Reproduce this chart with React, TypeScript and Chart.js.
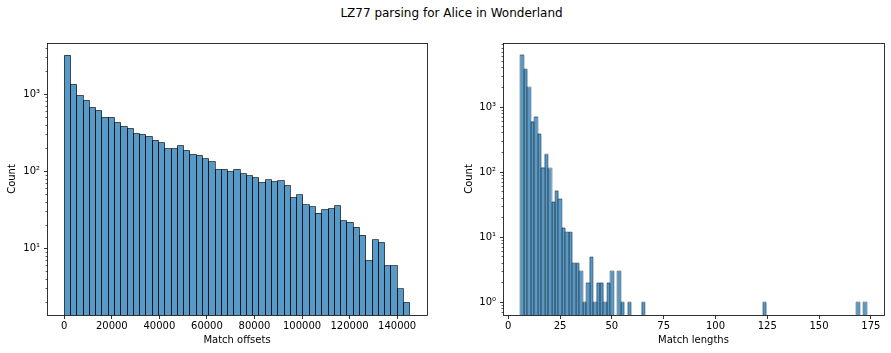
import React, { useEffect, useRef } from "react";
import { Chart, registerables } from "chart.js";

Chart.register(...registerables);

const FONT = "'DejaVu Sans', sans-serif";
Chart.defaults.font.family = FONT;
Chart.defaults.color = "#000";

const figureTitle = "LZ77 parsing for Alice in Wonderland";
const countLabel = "Count";

// ---- Left panel: match offsets (55 equal bins) ----
const offsetBinStart = 0;
const offsetBinWidth = 2641.8;
const offsetCounts = [
  3218, 1349, 970, 835, 678, 619, 502, 502, 432, 383,
  361, 311, 302, 284, 255, 237, 198, 198, 217, 187,
  166, 161, 147, 134, 106, 106, 100, 106, 94, 88,
  83, 72, 78, 74, 76, 66, 46, 50, 37, 35,
  29, 32, 33, 36, 23, 22, 19, 15, 7, 13,
  12, 6, 6, 3, 2,
];
const offsetTicks = [0, 20000, 40000, 60000, 80000, 100000, 120000, 140000];
const offsetTickLabels = ["0", "20000", "40000", "60000", "80000", "100000", "120000", "140000"];
const offsetXLabel = "Match offsets";

// ---- Right panel: match lengths (100 equal bins) ----
const lengthBinStart = 5.82;
const lengthBinWidth = 1.6718;
const lengthCounts = [
  6385, 3800, 2000, 600, 710, 390, 118, 187, 114, 35,
  52, 39, 14, 12, 12, 4, 4, 3, 1, 2,
  5, 1, 2, 2, 1, 2, 3, 0, 3, 1,
  0, 1, 0, 0, 0, 1, 0, 0, 0, 0,
  0, 0, 0, 0, 0, 0, 0, 0, 0, 0,
  0, 0, 0, 0, 0, 0, 0, 0, 0, 0,
  0, 0, 0, 0, 0, 0, 0, 0, 0, 0,
  1, 0, 0, 0, 0, 0, 0, 0, 0, 0,
  0, 0, 0, 0, 0, 0, 0, 0, 0, 0,
  0, 0, 0, 0, 0, 0, 0, 1, 0, 1,
];
const lengthTicks = [0, 25, 50, 75, 100, 125, 150, 175];
const lengthTickLabels = ["0", "25", "50", "75", "100", "125", "150", "175"];
const lengthXLabel = "Match lengths";

// ---- Shared log count axis ----
const countMajorTicks = [1, 10, 100, 1000];
const countMajorLabels = ["10\u2070", "10\u00b9", "10\u00b2", "10\u00b3"];

const BAR_FILL = "rgba(31,119,180,0.75)";

const mplAxesPlugin = {
  id: "mplAxes",
  afterDatasetsDraw(chart: any, _args: any, opts: any) {
    const { ctx, chartArea: a } = chart;
    const meta = chart.getDatasetMeta(0);
    const raw = chart.data.datasets[0].data;
    const snap = (v: number) => (opts.centerSnap ? Math.floor(v) + 0.5 : Math.round(v));
    ctx.save();
    ctx.beginPath();
    ctx.rect(a.left, a.top, a.right - a.left, a.bottom - a.top);
    ctx.clip();
    ctx.strokeStyle = "#000";
    ctx.lineWidth = opts.edgeWidth;
    meta.data.forEach((el: any, i: number) => {
      if (raw[i].y == null) return;
      const p = el.getProps(["x", "y", "base", "width"], true);
      const l = snap(p.x - p.width / 2);
      const r = snap(p.x + p.width / 2);
      const t = snap(p.y);
      const b = a.bottom + 5;
      ctx.beginPath();
      ctx.moveTo(l, b);
      ctx.lineTo(l, t);
      ctx.lineTo(r, t);
      ctx.lineTo(r, b);
      ctx.stroke();
    });
    ctx.restore();
  },
  afterDraw(chart: any) {
    const { ctx, chartArea: a } = chart;
    ctx.save();
    ctx.strokeStyle = "#000";
    const xs = chart.scales.x;
    xs.ticks.forEach((t: any) => {
      const px = Math.floor(xs.getPixelForValue(t.value)) + 0.5;
      ctx.lineWidth = 0.8;
      ctx.beginPath();
      ctx.moveTo(px, a.bottom + 0.5);
      ctx.lineTo(px, a.bottom + 4);
      ctx.stroke();
    });
    const ys = chart.scales.y;
    ys.ticks.forEach((t: any) => {
      const py = Math.floor(ys.getPixelForValue(t.value)) + 0.5;
      const len = t.minor ? 2 : 3.5;
      ctx.lineWidth = t.minor ? 0.6 : 0.8;
      ctx.beginPath();
      ctx.moveTo(a.left + 0.5, py);
      ctx.lineTo(a.left + 0.5 - len, py);
      ctx.stroke();
    });
    ctx.lineWidth = 0.8;
    ctx.strokeRect(a.left + 0.5, a.top + 0.5, a.right - a.left, a.bottom - a.top);
    ctx.restore();
  },
};

type PanelSpec = {
  counts: number[];
  binStart: number;
  binWidth: number;
  xMin: number;
  xMax: number;
  yMin: number;
  yMax: number;
  xTicks: number[];
  xTickLabels: string[];
  xLabel: string;
  yAxisWidth: number;
  padRight: number;
  yTitleOffset: number;
  edgeWidth: number;
  centerSnap: boolean;
};

function buildConfig(s: PanelSpec): any {
  const data = s.counts.map((c, i) => ({
    x: s.binStart + (i + 0.5) * s.binWidth,
    y: c > 0 ? c : null,
  }));
  const makeYTicks = () => {
    const out: any[] = [];
    countMajorTicks.forEach((v, i) => {
      if (v >= s.yMin && v <= s.yMax) out.push({ value: v, text: countMajorLabels[i], minor: false });
    });
    for (let e = -1; e <= 4; e++) {
      for (let m = 2; m <= 9; m++) {
        const v = m * Math.pow(10, e);
        if (v >= s.yMin && v <= s.yMax) out.push({ value: v, text: "", minor: true });
      }
    }
    out.sort((a, b) => a.value - b.value);
    return out;
  };
  return {
    type: "bar",
    data: {
      datasets: [
        {
          data,
          backgroundColor: BAR_FILL,
          borderWidth: 0,
          barPercentage: 1,
          categoryPercentage: 1,
          inflateAmount: 0,
        },
      ],
    },
    options: {
      animation: false,
      responsive: false,
      devicePixelRatio: 1,
      events: [],
      layout: { padding: { left: 0, top: 43, right: s.padRight, bottom: 0 } },
      plugins: {
        legend: { display: false },
        tooltip: { enabled: false },
        title: { display: false },
        mplAxes: { edgeWidth: s.edgeWidth, centerSnap: s.centerSnap },
      },
      scales: {
        x: {
          type: "linear",
          bounds: "data",
          min: s.xMin,
          max: s.xMax,
          offset: false,
          grid: { display: false, drawTicks: false },
          border: { display: false },
          afterBuildTicks: (sc: any) => {
            sc.ticks = s.xTicks.map((v, i) => ({ value: v, text: s.xTickLabels[i] }));
          },
          afterFit: (sc: any) => {
            sc.height = 38;
          },
          ticks: {
            autoSkip: false,
            maxRotation: 0,
            minRotation: 0,
            padding: 5,
            color: "#000",
            font: { size: 10, family: FONT },
            callback: (_v: any, i: number, ticks: any[]) => ticks[i].text,
          },
          title: {
            display: true,
            text: s.xLabel,
            color: "#000",
            font: { size: 10, family: FONT },
            padding: { top: 0, bottom: 6.5 },
          },
        },
        y: {
          type: "logarithmic",
          bounds: "data",
          min: s.yMin,
          max: s.yMax,
          grid: { display: false, drawTicks: false },
          border: { display: false },
          afterBuildTicks: (sc: any) => {
            sc.ticks = makeYTicks();
          },
          afterFit: (sc: any) => {
            sc.width = s.yAxisWidth;
          },
          ticks: {
            autoSkip: false,
            padding: 7,
            color: "#000",
            font: { size: 10, family: FONT },
            callback: (_v: any, i: number, ticks: any[]) => ticks[i].text,
          },
          title: {
            display: true,
            text: countLabel,
            color: "#000",
            font: { size: 10, family: FONT },
            padding: { top: s.yTitleOffset, bottom: 0 },
          },
        },
      },
    },
    plugins: [mplAxesPlugin],
  };
}

export default function App() {
  const leftRef = useRef<HTMLCanvasElement>(null);
  const rightRef = useRef<HTMLCanvasElement>(null);

  useEffect(() => {
    const left = new Chart(
      leftRef.current as HTMLCanvasElement,
      buildConfig({
        counts: offsetCounts,
        binStart: offsetBinStart,
        binWidth: offsetBinWidth,
        xMin: -7265,
        xMax: 152565,
        yMin: 1.38,
        yMax: 4650,
        xTicks: offsetTicks,
        xTickLabels: offsetTickLabels,
        xLabel: offsetXLabel,
        yAxisWidth: 47,
        padRight: 18,
        yTitleOffset: 6.5,
        edgeWidth: 0.63,
        centerSnap: true,
      })
    );
    const right = new Chart(
      rightRef.current as HTMLCanvasElement,
      buildConfig({
        counts: lengthCounts,
        binStart: lengthBinStart,
        binWidth: lengthBinWidth,
        xMin: -2.55,
        xMax: 181.35,
        yMin: 0.64,
        yMax: 9650,
        xTicks: lengthTicks,
        xTickLabels: lengthTickLabels,
        xLabel: lengthXLabel,
        yAxisWidth: 58,
        padRight: 7,
        yTitleOffset: 18,
        edgeWidth: 0.35,
        centerSnap: false,
      })
    );
    return () => {
      left.destroy();
      right.destroy();
    };
  }, []);

  return (
    <div
      style={{
        position: "absolute",
        left: 0,
        top: 0,
        width: 891,
        height: 353,
        background: "#fff",
        overflow: "hidden",
        fontFamily: FONT,
      }}
    >
      <div
        style={{
          position: "absolute",
          left: 0,
          top: 6,
          width: 903,
          textAlign: "center",
          fontSize: 12,
          lineHeight: "14px",
          color: "#000",
          whiteSpace: "nowrap",
        }}
      >
        {figureTitle}
      </div>
      <canvas
        ref={leftRef}
        width={445}
        height={353}
        style={{ position: "absolute", left: 0, top: 0, display: "block" }}
      />
      <canvas
        ref={rightRef}
        width={446}
        height={353}
        style={{ position: "absolute", left: 445, top: 0, display: "block" }}
      />
    </div>
  );
}
